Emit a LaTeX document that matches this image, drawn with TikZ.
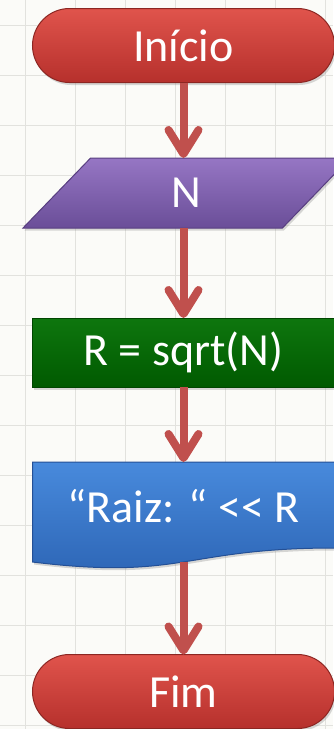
\documentclass[tikz,border=0pt]{standalone}
\usepackage{fontspec}
\setmainfont{Carlito}
\usetikzlibrary{shapes.geometric,arrows.meta,shadows,backgrounds}

\definecolor{paper}{RGB}{251,251,248}
\definecolor{gridgray}{RGB}{226,226,222}
\definecolor{flowred}{RGB}{192,80,77}
\definecolor{redtop}{RGB}{224,84,76}
\definecolor{redbot}{RGB}{182,48,44}
\definecolor{redline}{RGB}{140,38,34}
\definecolor{purpletop}{RGB}{150,118,196}
\definecolor{purplebot}{RGB}{106,78,152}
\definecolor{purpleline}{RGB}{88,62,128}
\definecolor{greentop}{RGB}{14,118,14}
\definecolor{greenbot}{RGB}{0,90,0}
\definecolor{greenline}{RGB}{0,70,0}
\definecolor{bluetop}{RGB}{72,138,220}
\definecolor{bluebot}{RGB}{44,100,180}
\definecolor{blueline}{RGB}{36,80,150}

\tikzset{
    chartnode/.style={text=white, font=\fontsize{46}{50}\selectfont, inner sep=0pt, outer sep=0pt, line width=1pt,
        drop shadow={opacity=0.3, shadow xshift=1.5pt, shadow yshift=-2.5pt}},
    terminal/.style={chartnode, rectangle, rounded corners=37pt, minimum width=302pt, minimum height=74pt,
        top color=redtop, bottom color=redbot, draw=redline},
    inputbox/.style={chartnode, trapezium, trapezium left angle=46, trapezium right angle=134,
        trapezium stretches body=true, text height=29pt, text depth=0pt, inner ysep=20.5pt,
        minimum width=327pt, top color=purpletop, bottom color=purplebot, draw=purpleline},
    process/.style={chartnode, rectangle, minimum width=302pt, minimum height=69pt,
        top color=greentop, bottom color=greenbot, draw=greenline},
    outputbox/.style={text=white, font=\fontsize{46}{50}\selectfont, inner sep=0pt, outer sep=0pt,
        text height=32pt, text depth=12pt, minimum width=302pt, minimum height=100pt},
    flow/.style={draw=flowred, line width=8pt, -{Straight Barb[length=24pt, width=30pt, round]}}
}

\begin{document}
\begin{tikzpicture}[x=1pt, y=-1pt]
    \useasboundingbox (0,0) rectangle (333,729);
    \begin{scope}[on background layer]
        \fill[paper] (0,0) rectangle (333,729);
        \foreach \gx in {25,75,...,325}
            \draw[gridgray, line width=1pt] (\gx,0) -- (\gx,729);
        \foreach \gy in {25,75,...,725}
            \draw[gridgray, line width=1pt] (0,\gy) -- (333,\gy);
    \end{scope}

    \node[terminal] (inicio) at (183.5,45.5) {Início};
    \node[inputbox] (entrada) at (186.5,193) {N};
    \node[process] (calculo) at (183.5,352.5) {R = sqrt(N)};
    \node[outputbox] (saida) at (183.5,512) {“Raiz: “ <{}< R};
    \node[terminal] (fim) at (183.5,691.5) {Fim};

    % document shape under the output text
    \begin{scope}[on background layer]
        \path[top color=bluetop, bottom color=bluebot, draw=blueline, line width=1pt,
            drop shadow={opacity=0.3, shadow xshift=1.5pt, shadow yshift=-2.5pt}]
            (saida.north west) -- (saida.north east) -- ([yshift=14pt]saida.south east)
            .. controls ([yshift=14pt]saida.south) and ([yshift=-18.5pt]saida.south) .. (saida.south west)
            -- cycle;
    \end{scope}

    \draw[flow] (calculo.north |- inicio.south) -- (calculo.north |- entrada.north);
    \draw[flow] (calculo.north |- entrada.south) -- (calculo.north);
    \draw[flow] (calculo.south) -- (saida.north);
    \draw[flow] (saida.south) -- (fim.north);
\end{tikzpicture}
\end{document}
